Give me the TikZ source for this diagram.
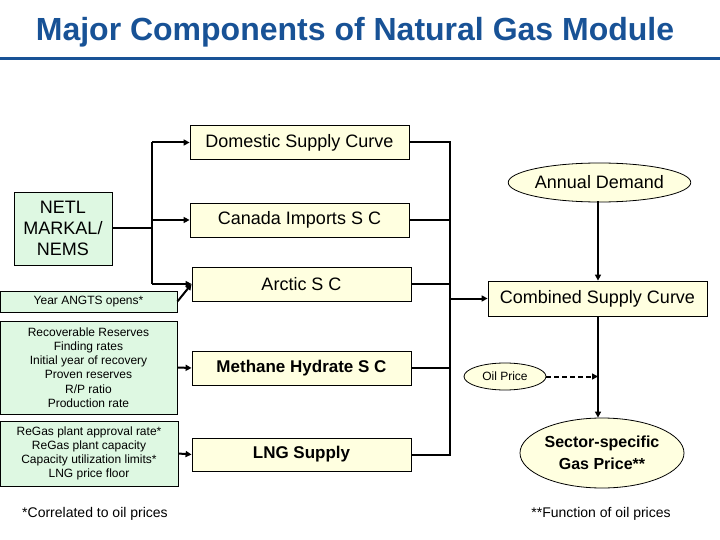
\documentclass[tikz,border=0pt]{standalone}
\usepackage{fontspec}
\setmainfont{Liberation Sans}
\usetikzlibrary{shapes.geometric,arrows.meta}
\definecolor{titleblue}{RGB}{24,82,150}
\definecolor{creamfill}{RGB}{255,255,224}
\definecolor{mintfill}{RGB}{222,248,226}
\tikzset{
  conn/.style={line width=2pt,black},
  arr/.style={conn,-{Triangle[length=6pt,width=6pt]}},
  supbox/.style={draw=black,line width=0.8pt,fill=creamfill,minimum width=219pt,minimum height=34pt,inner sep=0pt,font=\fontsize{18}{21}\selectfont},
  boldbox/.style={supbox,font=\fontsize{17}{20}\selectfont\bfseries},
  inbox/.style={draw=black,line width=0.8pt,fill=mintfill,inner sep=0pt,align=center,font=\fontsize{12}{14.2}\selectfont},
  oval/.style={draw=black,line width=0.8pt,fill=creamfill,ellipse,inner sep=0pt,align=center}
}
\begin{document}
\begin{tikzpicture}[x=1pt,y=-1pt]
\useasboundingbox (0,0) rectangle (720,540);
\node[font=\fontsize{32}{35}\selectfont\bfseries,text=titleblue,anchor=base,inner sep=0pt] (title) at (355,41) {Major Components of Natural Gas Module};
\draw[titleblue,line width=3pt] (0,58.5) -- (720,58.5);

\node[supbox] (dom) at (299.5,142.5) {Domestic Supply Curve};
\node[supbox] (can) at (299.5,220) {Canada Imports S C};
\node[supbox] (arc) at (301.5,284) {Arctic S C};
\node[boldbox] (meth) at (301.5,368) {Methane Hydrate S C};
\node[boldbox,minimum height=33pt] (lng) at (301.5,454.5) {LNG Supply};
\node[supbox,minimum height=35pt] (comb) at (597.5,298.5) {Combined Supply Curve};

\node[inbox,minimum width=98pt,minimum height=73pt,font=\fontsize{18}{21}\selectfont] (netl) at (63,228.5) {NETL\\MARKAL/\\NEMS};
\node[inbox,minimum width=177pt,minimum height=21pt] (year) at (88.5,301.5) {Year ANGTS opens*};
\node[inbox,minimum width=177pt,minimum height=93pt] (rec) at (88.5,367.5) {Recoverable Reserves\\Finding rates\\Initial year of recovery\\Proven reserves\\R/P ratio\\Production rate};
\node[inbox,minimum width=178pt,minimum height=65pt,font=\fontsize{12}{14}\selectfont] (regas) at (89,453.5) {ReGas plant approval rate*\\ReGas plant capacity\\Capacity utilization limits*\\LNG price floor};

\node[oval,minimum width=165pt,minimum height=39pt,font=\fontsize{18}{21}\selectfont] (dem) at (599.5,182.5) {Annual Demand};
\node[oval,minimum width=82pt,minimum height=27pt,font=\fontsize{12}{14}\selectfont] (oil) at (505,376.5) {Oil Price};
\node[oval,minimum width=164pt,minimum height=70pt,font=\fontsize{16}{22}\selectfont\bfseries] (sec) at (602,453) {Sector-specific\\Gas Price**};

\node[font=\fontsize{14}{16}\selectfont] (fn1) at (95,514) {*Correlated to oil prices};
\node[font=\fontsize{14}{16}\selectfont] (fn2) at (601,514) {**Function of oil prices};

% left bus
\coordinate (lj) at (152,228.5);
\coordinate (lt) at (152,142.5);
\coordinate (lm) at (152,220);
\coordinate (lb) at (152,284);
\draw[conn] (netl.east) -- (lj);
\draw[conn] (lt) -- (lb);
\draw[arr] (lt) -- (dom.west);
\draw[arr] (lm) -- (can.west);
\draw[arr] (lb) -- (arc.west);
\draw[arr] (year.east) -- (arc.west);
\draw[arr] (rec.east) -- (meth.west);
\draw[arr] (regas.east) -- (lng.west);

% right bus
\coordinate (rt) at (449.5,142.5);
\coordinate (rb) at (449.5,454.5);
\coordinate (rc) at (449.5,298.5);
\draw[conn] (dom.east) -- (rt) -- (rb) -- (lng.east);
\draw[conn] (can.east) -- (can.east -| rt);
\draw[conn] (arc.east) -- (arc.east -| rt);
\draw[conn] (meth.east) -- (meth.east -| rt);
\draw[arr] (rc) -- (comb.west);

% right column
\coordinate (dtop) at (598,201.5);
\draw[arr] (dtop) -- (dtop |- comb.north);
\coordinate (cbot) at (598,316);
\coordinate (oj) at (598,376.5);
\draw[arr] (cbot) -- (cbot |- sec.north);
\draw[conn,dashed,dash pattern=on 5pt off 3pt,-{Triangle[length=6pt,width=6pt]}] (oil.east) -- (oj);
\end{tikzpicture}
\end{document}
